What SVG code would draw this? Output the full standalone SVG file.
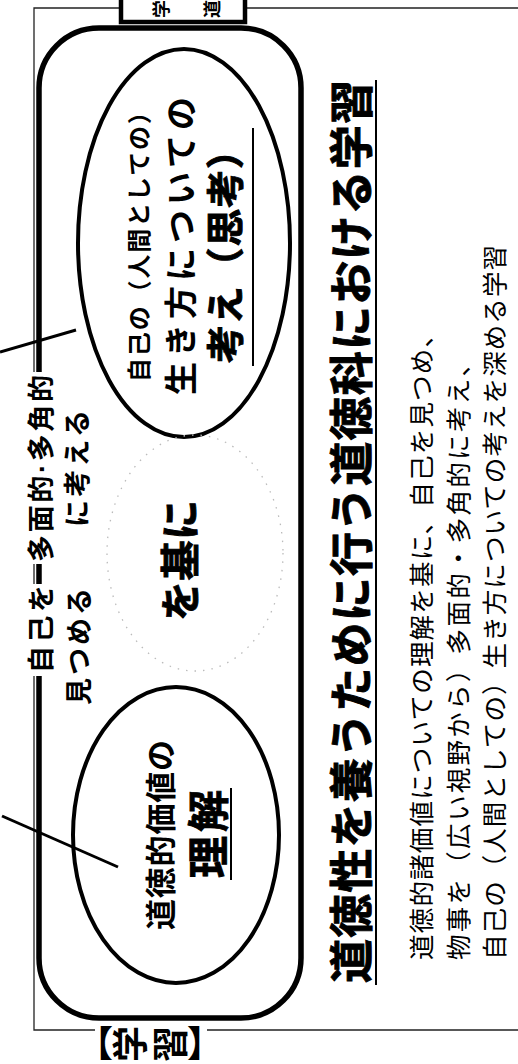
<svg xmlns="http://www.w3.org/2000/svg" width="518" height="1064" viewBox="0 0 518 1064">
<style>
text{font-family:'Liberation Sans','Noto Sans CJK JP',sans-serif;fill:#000;dominant-baseline:central}
.b{font-weight:bold}
.h{stroke:#000;stroke-width:0.9}
.frame{fill:none;stroke:#222;stroke-width:1.3}
.thick{fill:none;stroke:#000;stroke-width:5.5}
.ell{fill:none;stroke:#000;stroke-width:4}
.ul{stroke:#000;stroke-width:2}
.conn{stroke:#000;stroke-width:3;fill:none}
.mask{fill:#fff}
</style>
<rect width="518" height="1064" fill="#fff"/>
<g id="frame">
<path class="frame" d="M518 1030 H207 M95 1030 H34 V8 H518"/>
</g>
<g id="tab">
<rect x="121" y="-6" width="124" height="28" fill="#fff" stroke="#000" stroke-width="4.5"/>
<text class="b" x="162" y="9" font-size="18" text-anchor="middle" transform="rotate(-90 162 9)">学</text>
<text class="b" x="213" y="9" font-size="18" text-anchor="middle" transform="rotate(-90 213 9)">道</text>
</g>
<g id="container">
<rect class="thick" x="39" y="28" width="262" height="990" rx="60"/>
<rect class="mask" x="25" y="372" width="32" height="192"/>
<rect class="mask" x="25" y="584" width="32" height="92"/>
<text class="b" x="42" y="562" font-size="27" textLength="187" lengthAdjust="spacing" transform="rotate(-90 42 562)">多面的·多角的</text>
<text class="b" x="42" y="673" font-size="27" textLength="88" lengthAdjust="spacing" transform="rotate(-90 42 673)">自己を</text>
<text class="b" x="80" y="705" font-size="27" textLength="117" lengthAdjust="spacing" transform="rotate(-90 80 705)">見つめる</text>
<text class="b" x="78" y="527" font-size="27" textLength="117" lengthAdjust="spacing" transform="rotate(-90 78 527)">に考える</text>
</g>
<g id="node-self">
<ellipse class="ell" cx="184" cy="243" rx="106" ry="194"/>
<text class="b" x="139" y="382" font-size="24" textLength="282" lengthAdjust="spacing" transform="rotate(-90 139 382)">自己の（人間としての）</text>
<text class="b" x="181" y="395" font-size="33" textLength="298" lengthAdjust="spacing" transform="rotate(-90 181 395)">生き方についての</text>
<text class="b h" x="226" y="363" font-size="38" textLength="232" lengthAdjust="spacing" transform="rotate(-90 226 363)">考え（思考）</text>
<line class="ul" x1="253" y1="366" x2="253" y2="128"/>
</g>
<g id="node-base">
<ellipse cx="195" cy="553" rx="88" ry="118" fill="none" stroke="#bbb" stroke-width="1.3" stroke-dasharray="1.5 7"/>
<text class="b h" x="181" y="621" font-size="40" textLength="121" lengthAdjust="spacing" transform="rotate(-90 181 621)">を基に</text>
</g>
<g id="node-value">
<ellipse class="ell" cx="176" cy="835" rx="103" ry="148"/>
<text class="b" x="161" y="930" font-size="31" textLength="190" lengthAdjust="spacing" transform="rotate(-90 161 930)">道徳的価値の</text>
<text class="b h" x="209" y="878" font-size="42" textLength="88" lengthAdjust="spacing" transform="rotate(-90 209 878)">理解</text>
<line class="ul" x1="231" y1="880" x2="231" y2="788"/>
</g>
<g id="title">
<text class="b h" x="352" y="983" font-size="44" textLength="903" lengthAdjust="spacing" transform="rotate(-90 352 983)">道徳性を養うために行う道徳科における学習</text>
<line class="ul" x1="376" y1="985" x2="376" y2="80" stroke-width="2.2"/>
</g>
<g id="desc">
<text x="422" y="960" font-size="25.5" textLength="638" lengthAdjust="spacing" transform="rotate(-90 422 960)">道徳的諸価値についての理解を基に、自己を見つめ、</text>
<text x="459" y="960" font-size="25.5" textLength="609" lengthAdjust="spacing" transform="rotate(-90 459 960)">物事を（広い視野から）多面的・多角的に考え、</text>
<text x="495" y="960" font-size="25.5" textLength="715" lengthAdjust="spacing" transform="rotate(-90 495 960)">自己の（人間としての）生き方についての考えを深める学習</text>
</g>
<g id="label">
<text class="b" x="95" y="1044" font-size="36" text-anchor="middle">【</text>
<text class="b" x="131" y="1044" font-size="36" text-anchor="middle" transform="rotate(-90 131 1044)">学</text>
<text class="b" x="171" y="1044" font-size="36" text-anchor="middle" transform="rotate(-90 171 1044)">習</text>
<text class="b" x="205" y="1044" font-size="36" text-anchor="middle">】</text>
</g>
<g id="connectors">
<line class="conn" x1="0" y1="352" x2="76" y2="330"/>
<line class="conn" x1="2" y1="816" x2="118" y2="867"/>
</g>
</svg>
